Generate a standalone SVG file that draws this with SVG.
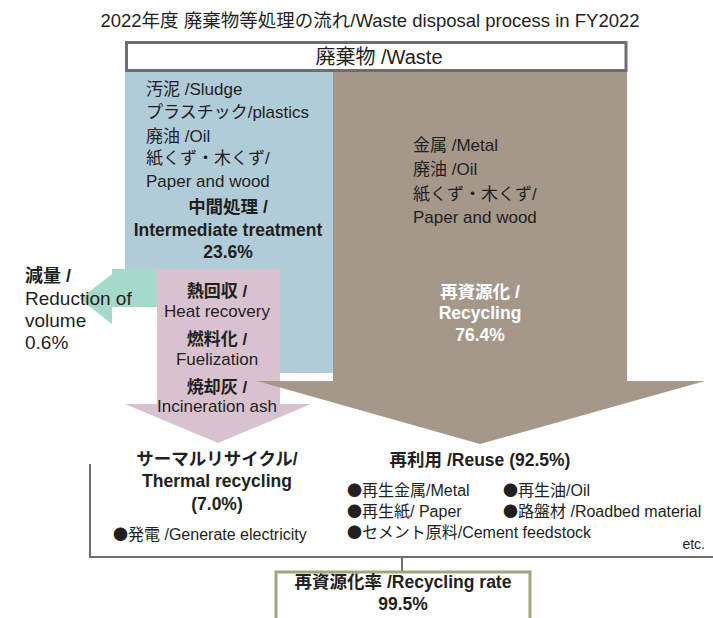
<svg xmlns="http://www.w3.org/2000/svg" width="713" height="618" viewBox="0 0 713 618">
<style>
text{font-family:"Liberation Sans","Noto Sans CJK JP",sans-serif;fill:#231f20}
.t{font-size:17.5px}
.b{font-weight:bold}
.s{font-size:17px}
.m{text-anchor:middle}
.w{fill:#ffffff}
.g{fill:#3b3a3a}
.li{font-size:16px}
.dot{font-family:"Noto Sans CJK JP",sans-serif;font-size:15px}
</style>
<rect width="713" height="618" fill="#ffffff"/>
<text class="m" x="370" y="27" style="font-size:18.5px">2022年度 廃棄物等処理の流れ/Waste disposal process in FY2022</text>

<g id="connectors" fill="none" stroke="#6d6e71" stroke-width="2">
<polyline points="90,464 90,557 713,557"/>
<line x1="402" y1="557" x2="402" y2="572"/>
</g>

<g id="intermediate">
<polygon points="125,72 333,72 333,373 280,373 280,269 125,269" fill="#b1ccd9"/>
<g class="s g">
<text x="146" y="95">汚泥 /Sludge</text>
<text x="146" y="118">プラスチック/plastics</text>
<text x="146" y="142">廃油 /Oil</text>
<text x="146" y="164">紙くず・木くず/</text>
<text x="146" y="187">Paper and wood</text>
</g>
<text class="t b m" x="228" y="213">中間処理 /</text>
<text class="t b m" x="228" y="236">Intermediate treatment</text>
<text class="t b m" x="228" y="258">23.6%</text>
</g>

<g id="reduction">
<polygon points="157,269 112,269 112,274 80,299 112,324 112,307 157,307" fill="#a5d9c9"/>
<text class="b" x="25" y="282" style="font-size:18px">減量 /</text>
<text x="25" y="305" style="font-size:19px">Reduction of</text>
<text x="25" y="327" style="font-size:19px">volume</text>
<text x="25" y="349" style="font-size:19px">0.6%</text>
</g>

<g id="thermal">
<polygon points="157,269 280,269 280,404 311,404 218,443 125,404 157,404" fill="#d9c2d0"/>
<g class="s m">
<text class="b" x="217" y="297">熱回収 /</text>
<text x="217" y="317">Heat recovery</text>
<text class="b" x="217" y="345">燃料化 /</text>
<text x="217" y="365">Fuelization</text>
<text class="b" x="217" y="393">焼却灰 /</text>
<text x="217" y="412">Incineration ash</text>
</g>
</g>

<g id="recycling">
<polygon points="333,72 627,72 627,381 705,381 480,444 257,381 333,381" fill="#a5988b"/>
<g class="s w">
<text x="413" y="151">金属 /Metal</text>
<text x="413" y="175">廃油 /Oil</text>
<text x="413" y="200">紙くず・木くず/</text>
<text x="413" y="223">Paper and wood</text>
</g>
<text class="t b m w" x="480" y="298">再資源化 /</text>
<text class="t b m w" x="480" y="319">Recycling</text>
<text class="t b m w" x="480" y="341">76.4%</text>
</g>

<g id="waste">
<rect x="126.5" y="42.5" width="499.5" height="28" fill="#ffffff" stroke="#6d6e71" stroke-width="3"/>
<text class="m" x="379" y="64" style="font-size:20px">廃棄物 /Waste</text>
</g>

<g id="thermal-recycling">
<text class="t b m" x="217" y="465">サーマルリサイクル/</text>
<text class="t b m" x="217" y="487">Thermal recycling</text>
<text class="t b m" x="217" y="510">(7.0%)</text>
<text class="li" x="113" y="540"><tspan class="dot">●</tspan>発電 /Generate electricity</text>
</g>

<g id="reuse">
<text class="t b m" x="480" y="466">再利用 /Reuse (92.5%)</text>
<text class="li" x="347" y="496"><tspan class="dot">●</tspan>再生金属/Metal</text>
<text class="li" x="503" y="496"><tspan class="dot">●</tspan>再生油/Oil</text>
<text class="li" x="347" y="517"><tspan class="dot">●</tspan>再生紙/ Paper</text>
<text class="li" x="503" y="517"><tspan class="dot">●</tspan>路盤材 /Roadbed material</text>
<text class="li" x="347" y="538"><tspan class="dot">●</tspan>セメント原料/Cement feedstock</text>
<text x="705" y="549" style="text-anchor:end;font-size:14px">etc.</text>
</g>

<g id="recycling-rate">
<rect x="276" y="572" width="254" height="60" fill="#ffffff" stroke="#a3a57b" stroke-width="3"/>
<text class="t b m" x="403" y="588">再資源化率 /Recycling rate</text>
<text class="t b m" x="403" y="610">99.5%</text>
</g>
</svg>
